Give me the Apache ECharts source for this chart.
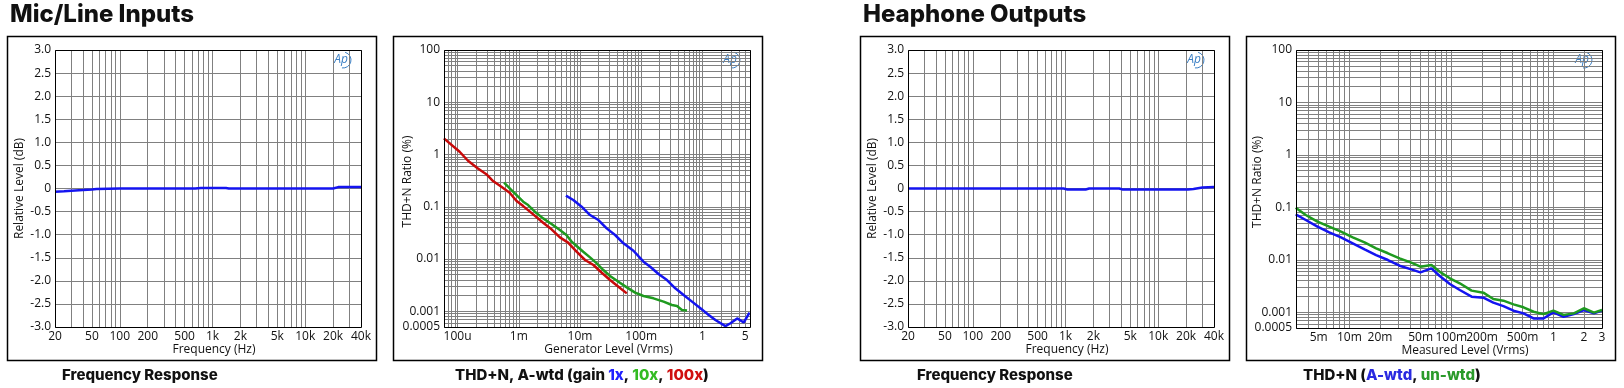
<!DOCTYPE html>
<html><head><meta charset="utf-8">
<script src="https://cdn.jsdelivr.net/npm/echarts@6/dist/echarts.min.js"></script>
<style>html,body{margin:0;padding:0;background:#fff;}#c{width:1624px;height:388px;}</style>
</head><body><div id="c"></div>
<script>
// ---------- DATA ----------
// Mic/Line inputs - frequency response
const frInFreq = [20, 25, 30, 40, 50, 56, 100, 300, 650, 750, 1000, 1400, 1500, 2000, 5000, 10000, 20000, 22700, 30000, 40000];
const frInDb   = [-0.07, -0.06, -0.05, -0.035, -0.02, -0.01, 0, 0, 0, 0.01, 0.01, 0.01, 0, 0, 0, 0, 0, 0.03, 0.03, 0.03];
// Headphone outputs - frequency response
const frOutFreq = [20, 100, 500, 950, 1050, 1650, 1800, 3800, 4100, 10000, 21000, 24000, 30000, 40000];
const frOutDb   = [0, 0, 0, 0, -0.02, -0.02, 0, 0, -0.02, -0.02, -0.02, -0.01, 0.02, 0.03];

// Mic/Line THD+N vs generator level (Vrms, %)
const thd1xLevel = [0.00589, 0.00778, 0.01064, 0.0146, 0.020, 0.0273, 0.0375, 0.0513, 0.0748, 0.109, 0.1405, 0.192, 0.264, 0.361, 0.494, 0.677, 0.928, 1.27, 1.63, 2.38, 2.88, 3.70, 4.75, 5.89];
const thd1xPct   = [0.163, 0.1346, 0.1004, 0.0695, 0.0557, 0.0386, 0.0288, 0.020, 0.0144, 0.0089, 0.00713, 0.00516, 0.00396, 0.00275, 0.00205, 0.00153, 0.00114, 0.00085, 0.00068, 0.00052, 0.00059, 0.00073, 0.00061, 0.00094];
const thd10xLevel = [0.000575, 0.00076, 0.000975, 0.00118, 0.00142, 0.00183, 0.0025, 0.00343, 0.0047, 0.0060, 0.0073, 0.0088, 0.0113, 0.0146, 0.0188, 0.0241, 0.031, 0.0425, 0.0582, 0.0797, 0.109, 0.159, 0.232, 0.318, 0.385, 0.464, 0.561];
const thd10xPct   = [0.289, 0.209, 0.156, 0.125, 0.108, 0.0805, 0.060, 0.0467, 0.0359, 0.0288, 0.0215, 0.0177, 0.0138, 0.01076, 0.00826, 0.00616, 0.00473, 0.00368, 0.00287, 0.00227, 0.00196, 0.00177, 0.00153, 0.00132, 0.00126, 0.00106, 0.00103];
const thd100xLevel = [0.0000597, 0.000108, 0.000148, 0.000215, 0.000295, 0.00038, 0.00052, 0.00071, 0.00092, 0.00118, 0.00172, 0.0025, 0.00343, 0.0047, 0.0064, 0.0088, 0.0121, 0.0166, 0.0227, 0.031, 0.0425, 0.0582];
const thd100xPct   = [2.04, 1.13, 0.76, 0.54, 0.42, 0.31, 0.242, 0.186, 0.129, 0.103, 0.0716, 0.0496, 0.037, 0.026, 0.0206, 0.0138, 0.00957, 0.00767, 0.00547, 0.00396, 0.00295, 0.0022];

// Headphone THD+N vs measured level (Vrms, %)
const hpLevel   = [0.00298, 0.00374, 0.00487, 0.00635, 0.00828, 0.0108, 0.0141, 0.0183, 0.0239, 0.0311, 0.0405, 0.0497, 0.0638, 0.077, 0.0967, 0.121, 0.158, 0.206, 0.258, 0.324, 0.407, 0.51, 0.64, 0.80, 1.0, 1.26, 1.59, 1.99, 2.5, 3.0];
const hpAwtdPct = [0.0735, 0.0573, 0.0427, 0.0333, 0.0268, 0.0206, 0.0158, 0.0123, 0.00989, 0.0077, 0.00656, 0.00575, 0.00686, 0.0049, 0.00345, 0.00265, 0.00198, 0.00189, 0.00152, 0.00131, 0.00107, 0.00095, 0.00076, 0.00076, 0.00099, 0.00082, 0.00092, 0.0011, 0.00095, 0.00107];
const hpUnwtdPct = [0.0984, 0.0714, 0.0533, 0.0427, 0.0343, 0.0268, 0.0215, 0.0165, 0.0133, 0.01065, 0.0088, 0.00738, 0.00794, 0.00593, 0.00443, 0.00356, 0.00258, 0.00236, 0.00179, 0.00166, 0.00141, 0.00124, 0.00102, 0.00092, 0.00107, 0.00089, 0.00095, 0.00119, 0.00098, 0.0011];

// Axis tick labels / grid values
const frLabelVals = [20, 50, 100, 200, 500, 1000, 2000, 5000, 10000, 20000, 40000];
const frGridVals = [20,30,40,50,60,70,80,90,100,200,300,400,500,600,700,800,900,1000,2000,3000,4000,5000,6000,7000,8000,9000,10000,20000,30000,40000];
const genLabelVals = [0.0001, 0.001, 0.01, 0.1, 1, 5];
const genGridVals = [0.00006,0.00007,0.00008,0.00009,0.0001,0.0002,0.0003,0.0004,0.0005,0.0006,0.0007,0.0008,0.0009,0.001,0.002,0.003,0.004,0.005,0.006,0.007,0.008,0.009,0.01,0.02,0.03,0.04,0.05,0.06,0.07,0.08,0.09,0.1,0.2,0.3,0.4,0.5,0.6,0.7,0.8,0.9,1,2,3,4,5,6];
const measLabelVals = [0.005, 0.01, 0.02, 0.05, 0.1, 0.2, 0.5, 1, 2, 3];
const measGridVals = [0.003,0.004,0.005,0.006,0.007,0.008,0.009,0.01,0.02,0.03,0.04,0.05,0.06,0.07,0.08,0.09,0.1,0.2,0.3,0.4,0.5,0.6,0.7,0.8,0.9,1,2,3];
const thdLabelVals = [0.0005, 0.001, 0.01, 0.1, 1, 10, 100];
const thdGridVals = [0.0005,0.0006,0.0007,0.0008,0.0009,0.001,0.002,0.003,0.004,0.005,0.006,0.007,0.008,0.009,0.01,0.02,0.03,0.04,0.05,0.06,0.07,0.08,0.09,0.1,0.2,0.3,0.4,0.5,0.6,0.7,0.8,0.9,1,2,3,4,5,6,7,8,9,10,20,30,40,50,60,70,80,90,100];

// ---------- LAYOUT ----------
const grids = [
  {left: 55, top: 50, width: 306, height: 277},
  {left: 444, top: 50, width: 306, height: 277},
  {left: 908, top: 50, width: 306, height: 277},
  {left: 1296, top: 50, width: 306, height: 278}
];
const boxes = [[7, 36], [393, 36], [860, 36], [1246, 36]];
const FONT = '"Open Sans", "DejaVu Sans", sans-serif';
const HFONT = 'Inter, "Open Sans", sans-serif';
const GRIDC = '#808080';
const BLUE = '#1414f0', GREEN = '#1f9a1f', RED = '#c80a0a';

const zip = (a, b) => a.map((v, i) => [v, b[i]]);
function engFmt(v) {
  if (v >= 1) return String(Math.round(v * 1000) / 1000);
  if (v >= 0.001) return String(Math.round(v * 1e6) / 1000) + 'm';
  return String(Math.round(v * 1e9) / 1000) + 'u';
}
function freqFmt(v) {
  return v >= 1000 ? (Math.round(v) / 1000) + 'k' : String(Math.round(v));
}
function thdFmt(v) {
  return String(+v.toPrecision(3));
}
const lbl = {color: '#111', fontFamily: FONT, fontSize: 12};
const nameStyle = (padL) => ({color: '#111', fontFamily: FONT, fontSize: 12, padding: [0, 0, 0, padL]});

function logX(gi, min, max, labels, grid, fmt, name, padL) {
  return {
    gridIndex: gi, type: 'log', logBase: 10, min: min, max: max,
    name: name, nameLocation: 'middle', nameGap: 17, nameTextStyle: nameStyle(padL), nameMoveOverlap: false,
    axisLine: {show: false}, axisTick: {show: false, customValues: grid},
    minorTick: {show: false}, minorSplitLine: {show: false},
    axisLabel: Object.assign({customValues: labels, formatter: fmt, margin: 4, showMinLabel: true, showMaxLabel: true, hideOverlap: false}, lbl),
    splitLine: {show: true, lineStyle: {color: GRIDC, width: 1}}
  };
}
function logY(gi, name, gap) {
  return {
    gridIndex: gi, type: 'log', logBase: 10, min: 0.0005, max: 100,
    name: name, nameLocation: 'middle', nameGap: gap, nameTextStyle: Object.assign(nameStyle(0), {padding: [0, 0, 0, 14]}), nameMoveOverlap: false,
    axisLine: {show: false}, axisTick: {show: false, customValues: thdGridVals},
    minorTick: {show: false}, minorSplitLine: {show: false},
    axisLabel: Object.assign({customValues: thdLabelVals, formatter: thdFmt, margin: 4, hideOverlap: false}, lbl),
    splitLine: {show: true, lineStyle: {color: GRIDC, width: 1}}
  };
}
function linY(gi, gap) {
  return {
    gridIndex: gi, type: 'value', min: -3, max: 3, interval: 0.5,
    name: 'Relative Level (dB)', nameLocation: 'middle', nameGap: gap, nameTextStyle: nameStyle(0), nameMoveOverlap: false,
    axisLine: {show: false}, axisTick: {show: false},
    axisLabel: Object.assign({formatter: v => (v === 0 ? '0' : v.toFixed(1)), margin: 4}, lbl),
    splitLine: {show: true, lineStyle: {color: GRIDC, width: 1}}
  };
}
function line(xi, data, color) {
  return {type: 'line', xAxisIndex: xi, yAxisIndex: xi, data: data, showSymbol: false, symbol: 'none',
    lineStyle: {color: color, width: 2.5}, itemStyle: {color: color}, clip: true, silent: true, animation: false};
}

const graphics = [];
boxes.forEach(b => graphics.push({type: 'rect', shape: {x: b[0] + 0.5, y: b[1] + 0.5, width: 369, height: 324},
  style: {fill: 'none', stroke: '#000', lineWidth: 1.5}, silent: true, z: 100}));
grids.forEach(g => {
  graphics.push({type: 'rect', shape: {x: g.left + 0.5, y: g.top + 0.5, width: g.width, height: g.height},
    style: {fill: 'none', stroke: '#000', lineWidth: 1}, silent: true, z: 100});
  graphics.push({type: 'group', x: g.left + g.width - 20, y: g.top + 10, z: 100, silent: true, children: [
    {type: 'text', x: 0, y: 0, style: {text: 'Ap', fill: '#3b7fc4', font: 'italic 12px "Open Sans", sans-serif', textAlign: 'center', textVerticalAlign: 'middle'}},
    {type: 'arc', shape: {cx: 2, cy: 0, r: 8, startAngle: -1.3, endAngle: 1.7}, style: {stroke: '#3b7fc4', lineWidth: 1, fill: 'none'}}
  ]});
});

const hStyle = {fontFamily: HFONT, fontSize: 24, fontWeight: 800, color: '#111'};
const cStyle = {fontFamily: HFONT, fontSize: 15, fontWeight: 800, color: '#111'};

const option = {
  animation: false,
  backgroundColor: '#fff',
  title: [
    {text: 'Mic/Line Inputs', left: 5, top: -2, textStyle: hStyle},
    {text: 'Heaphone Outputs', left: 858, top: -2, textStyle: hStyle},
    {text: 'Frequency Response', left: 57, top: 363, textStyle: cStyle},
    {text: '{b|THD+N, A-wtd (gain }{u|1x}{b|, }{g|10x}{b|, }{r|100x}{b|)}', left: 450, top: 363,
      textStyle: {rich: {b: cStyle, u: Object.assign({}, cStyle, {color: '#2020ff'}), g: Object.assign({}, cStyle, {color: '#33bb22'}), r: Object.assign({}, cStyle, {color: '#d01010'})}}},
    {text: 'Frequency Response', left: 912, top: 363, textStyle: cStyle},
    {text: '{b|THD+N (}{u|A-wtd}{b|, }{g|un-wtd}{b|)}', left: 1298, top: 363,
      textStyle: {rich: {b: cStyle, u: Object.assign({}, cStyle, {color: '#2a2ae0'}), g: Object.assign({}, cStyle, {color: '#2a9a2a'})}}}
  ],
  grid: grids.map(g => Object.assign({containLabel: false, show: false}, g)),
  xAxis: [
    logX(0, 20, 40000, frLabelVals, frGridVals, freqFmt, 'Frequency (Hz)', 12),
    logX(1, 0.00006, 6, genLabelVals, genGridVals, engFmt, 'Generator Level (Vrms)', 23),
    logX(2, 20, 40000, frLabelVals, frGridVals, freqFmt, 'Frequency (Hz)', 12),
    logX(3, 0.003, 3, measLabelVals, measGridVals, engFmt, 'Measured Level (Vrms)', 32)
  ],
  yAxis: [
    linY(0, 29),
    logY(1, 'THD+N Ratio (%)', 30),
    linY(2, 29),
    logY(3, 'THD+N Ratio (%)', 32)
  ],
  series: [
    line(0, zip(frInFreq, frInDb), BLUE),
    line(1, zip(thd1xLevel, thd1xPct), BLUE),
    line(1, zip(thd10xLevel, thd10xPct), GREEN),
    line(1, zip(thd100xLevel, thd100xPct), RED),
    line(2, zip(frOutFreq, frOutDb), BLUE),
    line(3, zip(hpLevel, hpAwtdPct), BLUE),
    line(3, zip(hpLevel, hpUnwtdPct), GREEN)
  ],
  graphic: graphics
};
const chart = echarts.init(document.getElementById('c'), null, {renderer: 'canvas'});
chart.setOption(option);
</script></body></html>
